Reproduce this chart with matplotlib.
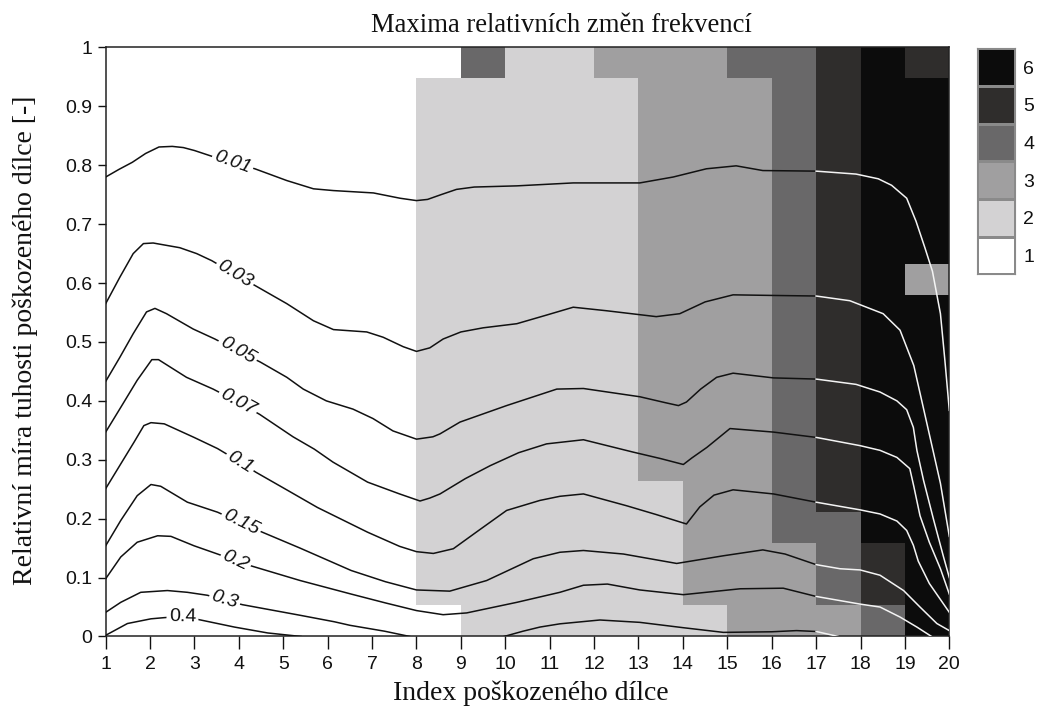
import numpy as np
import matplotlib
matplotlib.use('Agg')
import matplotlib.pyplot as plt
from matplotlib.colors import ListedColormap, BoundaryNorm

# class of each cell, top row first, columns = damaged element 1..19 (cells 1-2 ... 19-20)
grid_rows = [
    "1111111142233344565",
    "1111111222223334566",
    "1111111222223334566",
    "1111111222223334566",
    "1111111222223334566",
    "1111111222223334566",
    "1111111222223334566",
    "1111111222223334563",
    "1111111222223334566",
    "1111111222223334566",
    "1111111222223334566",
    "1111111222223334566",
    "1111111222223334566",
    "1111111222223334566",
    "1111111222222334566",
    "1111111222222334466",
    "1111111222222333456",
    "1111111222222333456",
    "1111111122222233346",
]
class_values = [1, 2, 3, 4, 5, 6]
shades = ['#ffffff', '#d3d2d3', '#a09fa0', '#696869', '#2f2d2c', '#0c0c0c']

x_ticks = list(range(1, 21))
y_ticks = [0, 0.1, 0.2, 0.3, 0.4, 0.5, 0.6, 0.7, 0.8, 0.9, 1]
y_ticklabels = ['0', '0.1', '0.2', '0.3', '0.4', '0.5', '0.6', '0.7', '0.8', '0.9', '1']

# contour lines (x = element index, y = relative stiffness)
line_001 = [(1.0, 0.780), (1.3, 0.793), (1.6, 0.805), (1.9, 0.820), (2.2, 0.831), (2.5, 0.832),
            (2.75, 0.830), (3.0, 0.825), (3.4, 0.815), (3.86, 0.805), (4.36, 0.794), (5.08, 0.774),
            (5.68, 0.760), (6.13, 0.757), (7.03, 0.753), (7.63, 0.744), (8.0, 0.740), (8.25, 0.742),
            (8.55, 0.750), (8.9, 0.759), (9.3, 0.763), (10.26, 0.765), (11.53, 0.770), (13.03, 0.770),
            (13.78, 0.780), (14.53, 0.794), (15.2, 0.799), (15.8, 0.791), (17.0, 0.790),
            (17.9, 0.785), (18.4, 0.777), (18.7, 0.766), (19.04, 0.744), (19.25, 0.705),
            (19.45, 0.660), (19.62, 0.620), (19.8, 0.548), (19.9, 0.469), (20.0, 0.384)]
line_003 = [(1.0, 0.565), (1.32, 0.610), (1.62, 0.650), (1.85, 0.667), (2.07, 0.668), (2.67, 0.660),
            (3.05, 0.650), (3.39, 0.638), (3.91, 0.615), (4.36, 0.596), (5.08, 0.565), (5.68, 0.536),
            (6.13, 0.521), (6.88, 0.517), (7.25, 0.508), (7.7, 0.492), (8.0, 0.484), (8.3, 0.490),
            (8.6, 0.505), (9.0, 0.517), (9.5, 0.524), (10.26, 0.531), (10.9, 0.545), (11.53, 0.559),
            (12.28, 0.553), (13.4, 0.543), (13.93, 0.548), (14.5, 0.568), (15.13, 0.580),
            (16.0, 0.579), (17.0, 0.578), (17.76, 0.570), (18.51, 0.548), (18.89, 0.520),
            (19.2, 0.460), (19.5, 0.360), (19.8, 0.260), (20.0, 0.170)]
line_005 = [(1.0, 0.433), (1.32, 0.474), (1.62, 0.514), (1.92, 0.551), (2.11, 0.557), (2.37, 0.548),
            (2.97, 0.522), (3.46, 0.505), (3.97, 0.485), (4.48, 0.466), (5.08, 0.440), (5.45, 0.420),
            (5.97, 0.400), (6.57, 0.386), (7.02, 0.370), (7.47, 0.349), (8.0, 0.335), (8.37, 0.339),
            (8.53, 0.344), (8.98, 0.364), (10.03, 0.392), (11.16, 0.420), (11.76, 0.421),
            (13.03, 0.407), (13.6, 0.397), (13.9, 0.392), (14.08, 0.398), (14.4, 0.420),
            (14.76, 0.440), (15.13, 0.447), (16.04, 0.439), (17.0, 0.437), (17.9, 0.428),
            (18.44, 0.415), (18.82, 0.400), (19.04, 0.385), (19.19, 0.355), (19.27, 0.316),
            (19.42, 0.265), (19.64, 0.200), (19.87, 0.135), (20.0, 0.100)]
line_007 = [(1.0, 0.347), (1.34, 0.389), (1.71, 0.435), (2.04, 0.470), (2.19, 0.470), (2.82, 0.440),
            (3.42, 0.420), (3.98, 0.398), (4.47, 0.377), (5.22, 0.339), (5.7, 0.318), (6.12, 0.296),
            (6.9, 0.262), (7.62, 0.242), (8.08, 0.230), (8.3, 0.235), (8.53, 0.242), (9.1, 0.268),
            (9.66, 0.290), (10.3, 0.312), (10.93, 0.327), (11.76, 0.334), (12.88, 0.313),
            (13.5, 0.302), (14.01, 0.292), (14.2, 0.303), (14.54, 0.321), (15.06, 0.353),
            (16.04, 0.347), (17.0, 0.338), (17.99, 0.324), (18.44, 0.316), (18.82, 0.304),
            (19.11, 0.285), (19.2, 0.255), (19.34, 0.205), (19.55, 0.160), (19.8, 0.115),
            (20.0, 0.072)]
line_010 = [(1.0, 0.251), (1.34, 0.293), (1.64, 0.330), (1.86, 0.358), (2.02, 0.363), (2.32, 0.361),
            (2.99, 0.338), (3.52, 0.319), (4.03, 0.296), (4.38, 0.279), (5.1, 0.248), (5.77, 0.219),
            (6.9, 0.177), (7.62, 0.153), (8.0, 0.144), (8.38, 0.141), (8.83, 0.149), (9.4, 0.180),
            (10.03, 0.214), (10.78, 0.231), (11.23, 0.238), (11.76, 0.242), (12.73, 0.222),
            (13.4, 0.207), (14.08, 0.191), (14.38, 0.220), (14.7, 0.240), (15.13, 0.249),
            (16.04, 0.242), (17.0, 0.228), (17.99, 0.215), (18.44, 0.208), (18.82, 0.196),
            (19.04, 0.180), (19.19, 0.155), (19.3, 0.128), (19.55, 0.090), (20.0, 0.041)]
line_015 = [(1.0, 0.154), (1.34, 0.197), (1.71, 0.239), (2.02, 0.258), (2.24, 0.255), (2.84, 0.228),
            (3.52, 0.211), (4.05, 0.193), (4.53, 0.177), (5.38, 0.150), (6.53, 0.112), (7.3, 0.093),
            (8.0, 0.079), (8.75, 0.077), (9.58, 0.095), (10.63, 0.132), (11.23, 0.143),
            (11.76, 0.146), (12.66, 0.140), (13.86, 0.124), (14.91, 0.137), (15.8, 0.147),
            (16.3, 0.140), (17.0, 0.122), (17.54, 0.115), (17.99, 0.113), (18.44, 0.104),
            (18.97, 0.078), (19.34, 0.050), (19.72, 0.022), (20.0, 0.010)]
line_020 = [(1.0, 0.098), (1.34, 0.135), (1.71, 0.160), (2.17, 0.171), (2.47, 0.170), (2.99, 0.154),
            (3.52, 0.140), (3.93, 0.129), (4.27, 0.120), (5.38, 0.095), (6.53, 0.072), (7.3, 0.057),
            (8.0, 0.044), (8.6, 0.037), (9.13, 0.040), (10.26, 0.058), (11.23, 0.075),
            (11.76, 0.087), (12.3, 0.089), (13.03, 0.079), (14.01, 0.071), (15.29, 0.081),
            (16.26, 0.082), (17.0, 0.068), (17.99, 0.055), (18.44, 0.050), (18.89, 0.033),
            (19.27, 0.016), (19.6, 0.0)]
line_030a = [(1.0, 0.041), (1.34, 0.058), (1.79, 0.075), (2.39, 0.078), (2.84, 0.075), (3.29, 0.070),
             (3.68, 0.062), (4.08, 0.054), (5.02, 0.041), (5.38, 0.036), (6.15, 0.025), (6.5, 0.019),
             (7.28, 0.009), (7.85, 0.0)]
line_030b = [(9.97, 0.0), (10.4, 0.009), (10.78, 0.016), (11.23, 0.0215), (12.13, 0.028),
             (13.03, 0.024), (14.0, 0.015), (14.91, 0.007), (16.0, 0.008), (16.56, 0.010),
             (17.0, 0.0085), (17.5, 0.0)]
line_040 = [(1.0, 0.002), (1.49, 0.022), (2.02, 0.030), (2.32, 0.032), (2.73, 0.034), (3.14, 0.028),
            (3.9, 0.016), (4.65, 0.006), (5.4, 0.0)]

# contour labels: text, position on the line, angle
label_text = ['0.01', '0.03', '0.05', '0.07', '0.1', '0.15', '0.2', '0.3', '0.4']
label_x = [3.86, 3.91, 3.97, 3.98, 4.03, 4.05, 3.93, 3.68, 2.73]
label_y = [0.805, 0.615, 0.485, 0.398, 0.296, 0.193, 0.129, 0.062, 0.034]
label_rot = [-20, -31, -30, -28.5, -32, -26.5, -25, -17, -1]

all_lines = [line_001, line_003, line_005, line_007, line_010, line_015, line_020,
             line_030a, line_030b, line_040]

sans = 'Liberation Sans'
serif = 'Liberation Serif'

fig = plt.figure(figsize=(10.4, 7.08), dpi=100)
ax = fig.add_axes([0.1016, 0.101, 0.8112, 0.832])

grid = np.array([[int(c) for c in row] for row in grid_rows[::-1]])
cmap = ListedColormap(shades)
norm = BoundaryNorm(np.arange(0.5, 7.5, 1), cmap.N)
x_edges = np.arange(1, 21)
y_edges = np.linspace(0, 1, 20)
ax.pcolormesh(x_edges, y_edges, grid, cmap=cmap, norm=norm, shading='flat')

for pts in all_lines:
    arr = np.array(pts)
    x, y = arr[:, 0], arr[:, 1]
    left = x <= 17
    right = x >= 17
    ax.plot(x[left], y[left], color='#111111', lw=1.1, zorder=3)
    if right.sum() > 1:
        ax.plot(x[right], y[right], color='#f4f4f4', lw=1.1, zorder=3)

for t, lx, ly, r in zip(label_text, label_x, label_y, label_rot):
    style = 'normal' if t == '0.4' else 'italic'
    ax.text(lx, ly, t, rotation=r, rotation_mode='anchor', ha='center', va='center',
            fontsize=14, family=sans, style=style, color='#111111', zorder=4,
            bbox=dict(boxstyle='square,pad=0.12', fc='white', ec='none'))

ax.set_xlim(1, 20)
ax.set_ylim(0, 1)
ax.set_xticks(x_ticks)
ax.set_yticks(y_ticks)
ax.set_yticklabels(y_ticklabels)
ax.tick_params(axis='x', direction='out', length=9, width=1, pad=5, labelsize=14, colors='#111111')
ax.tick_params(axis='y', direction='out', length=6, width=1, pad=3.5, labelsize=14, colors='#111111')
for lab in ax.get_xticklabels() + ax.get_yticklabels():
    lab.set_family(sans)
for s in ax.spines.values():
    s.set_color('#222222')
    s.set_linewidth(1.1)

fig.text(0.540, 0.964, 'Maxima relativních změn frekvencí', ha='center', va='center',
         fontsize=19.2, family=serif, color='#111111')
fig.text(0.51, 0.021, 'Index poškozeného dílce', ha='center', va='center',
         fontsize=20, family=serif, color='#111111')
fig.text(0.024, 0.52, 'Relativní míra tuhosti poškozeného dílce [-]', ha='center', va='center',
         rotation=90, fontsize=20, family=serif, color='#111111')

# legend bar of classes
cax = fig.add_axes([0.9397, 0.6126, 0.0363, 0.3192])
cax.pcolormesh([0, 1], np.arange(0.5, 7.5, 1), np.array(class_values).reshape(-1, 1),
               cmap=cmap, norm=norm, edgecolors='#8a8a8a', linewidth=0.8)
cax.set_xlim(0, 1)
cax.set_ylim(0.5, 6.5)
cax.set_xticks([])
cax.yaxis.tick_right()
cax.set_yticks(class_values)
cax.tick_params(axis='y', length=0, pad=6, labelsize=14, colors='#111111')
for lab in cax.get_yticklabels():
    lab.set_family(sans)
for s in cax.spines.values():
    s.set_color('#8a8a8a')
    s.set_linewidth(0.8)

fig.savefig('out.png', dpi=100, facecolor='white')
